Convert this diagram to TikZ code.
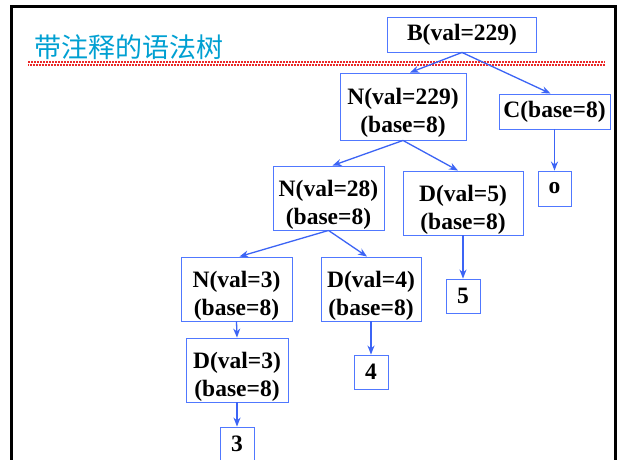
\documentclass[tikz,border=0pt]{standalone}
\usepackage{fontspec}
\setmainfont{Liberation Serif}
\newfontfamily\cjk{Noto Sans CJK SC}
\usetikzlibrary{arrows.meta}
\definecolor{boxblue}{RGB}{80,120,255}
\definecolor{arrblue}{RGB}{60,100,245}
\definecolor{titlecyan}{RGB}{0,160,210}
\definecolor{rulered}{RGB}{235,40,40}
\newcommand{\tallstrut}{\rule{0pt}{29pt}}
\begin{document}
\begin{tikzpicture}[x=1pt,y=-1pt,
  tnode/.style={draw=boxblue,line width=0.9pt,fill=white,align=center,inner sep=0pt,
    font=\bfseries\fontsize{23.5}{28}\selectfont},
  conn/.style={draw=arrblue,line width=1.3pt,-{Stealth[length=9pt,width=7pt]}}]
\useasboundingbox (0,0) rectangle (621,459);
\fill[white] (0,0) rectangle (621,459);
% frame
\draw[line width=3pt] (11,462) -- (11,6) -- (615,6) -- (615,462);
% title
\node[anchor=west,text=titlecyan,font=\cjk\fontsize{27}{30}\selectfont,inner sep=0pt] (title) at (34,47) {带注释的语法树};
% red rule
\draw[rulered,line width=1.2pt,dash pattern=on 2pt off 1pt] (28,62) -- (605,62);
\draw[rulered,line width=1.2pt,dash pattern=on 2pt off 1pt,dash phase=1.5pt] (28,65) -- (605,65);
% nodes
\node[tnode,minimum width=149pt,minimum height=35pt] (b) at (462,34.5) {B(val=229)};
\node[tnode,minimum width=126pt,minimum height=67pt] (n229) at (403,106.5) {\tallstrut N(val=229)\\(base=8)};
\node[tnode,minimum width=111pt,minimum height=35pt] (c) at (554.5,111.5) {C(base=8)};
\node[tnode,minimum width=33pt,minimum height=35pt] (o) at (554.5,188.5) {o};
\node[tnode,minimum width=111pt,minimum height=64pt] (n28) at (328.5,198) {\tallstrut N(val=28)\\(base=8)};
\node[tnode,minimum width=120pt,minimum height=64pt] (d5) at (463,203) {\tallstrut D(val=5)\\(base=8)};
\node[tnode,minimum width=34pt,minimum height=34pt] (five) at (463,296) {5};
\node[tnode,minimum width=111pt,minimum height=64pt] (n3) at (236.5,289) {\tallstrut N(val=3)\\(base=8)};
\node[tnode,minimum width=100pt,minimum height=64pt] (d4) at (371,289) {\tallstrut D(val=4)\\(base=8)};
\node[tnode,minimum width=34pt,minimum height=34pt] (four) at (371,372) {4};
\node[tnode,minimum width=102pt,minimum height=64pt] (d3) at (237,370) {\tallstrut D(val=3)\\(base=8)};
\node[tnode,minimum width=34pt,minimum height=34pt] (three) at (237,444) {3};
% connectors
\draw[conn] (b.south) -- ([xshift=7pt]n229.north);
\draw[conn] (b.south) -- ([xshift=-4pt]c.north);
\draw[conn] (c.south) -- (o.north);
\draw[conn] (n229.south) -- ([xshift=4pt]n28.north);
\draw[conn] (n229.south) -- ([xshift=-5pt]d5.north);
\draw[conn] (d5.south) -- (five.north);
\draw[conn] (n28.south) -- ([xshift=3pt]n3.north);
\draw[conn] (n28.south) -- ([xshift=-4pt]d4.north);
\draw[conn] (d4.south) -- (four.north);
\draw[conn] (n3.south) -- (d3.north);
\draw[conn] (d3.south) -- (three.north);
\end{tikzpicture}
\end{document}
